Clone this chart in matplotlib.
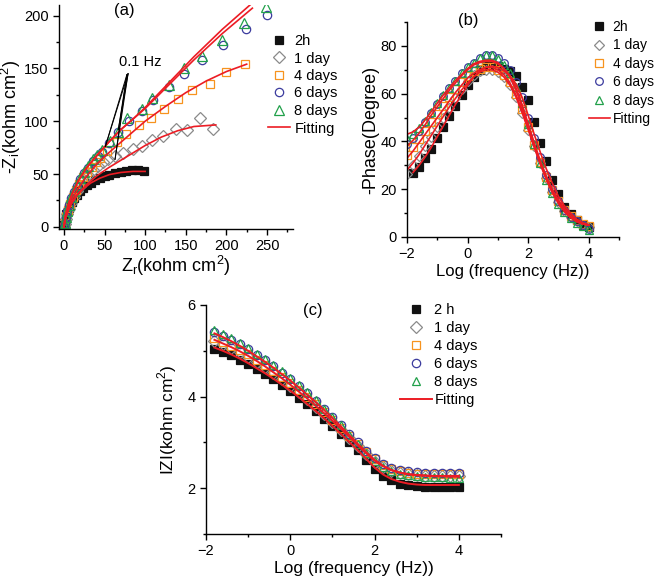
import matplotlib
matplotlib.use('Agg')
import matplotlib.pyplot as plt
from matplotlib.ticker import MultipleLocator

plt.rcParams['font.family'] = ['Liberation Sans', 'DejaVu Sans']
plt.rcParams['mathtext.fontset'] = 'custom'
plt.rcParams['mathtext.rm'] = 'Liberation Sans'

labels = ['2h', '1 day', '4 days', '6 days', '8 days']
labels_c = ['2 h', '1 day', '4 days', '6 days', '8 days']

# ---- (a) Nyquist data: Zr, -Zi (kohm cm2)
zr_2h = [0, 0.5, 1, 2, 3, 4.5, 6, 8, 10, 13, 16, 20, 24, 28, 33, 38, 44, 50, 56, 63, 70, 77, 84, 91, 98]
zi_2h = [0, 2, 5, 9, 12, 15, 18, 21, 24, 27.5, 30.5, 34, 37, 39.5, 42, 44, 46.5, 48, 49.5, 51, 52, 53, 53.5, 53.5, 52.5]
zr_1d = [0, 1, 2, 4, 6, 9, 12, 16, 20, 25, 30, 36, 42, 48, 54, 63, 73, 85, 96, 108, 122, 138, 152, 167, 183]
zi_1d = [0, 3, 7, 12, 17, 23, 28, 34, 39, 44, 49, 54, 58, 61, 64, 67, 70, 74, 77, 82, 86, 93, 92, 103, 93]
zr_4d = [0, 1, 3, 5, 8, 11, 15, 19, 24, 29, 34, 39, 45, 53, 65, 77, 93, 107, 123, 140, 158, 180, 200, 223]
zi_4d = [0, 4, 10, 16, 22, 28, 35, 41, 47, 52, 57, 61, 65, 72, 80, 88, 96, 103, 112, 121, 130, 135, 147, 154]
zr_6d = [0, 1, 2, 4, 6, 9, 12, 16, 20, 25, 30, 36, 42, 47, 56, 67, 80, 96, 110, 129, 148, 170, 196, 224, 250]
zi_6d = [0, 4, 9, 15, 21, 27, 33, 39, 45, 51, 56, 62, 67, 71, 79, 90, 100, 110, 120, 132, 145, 158, 172, 187, 201]
zr_8d = [0, 1, 2, 4, 6, 9, 12, 16, 20, 25, 30, 36, 41, 47, 57, 67, 78, 96, 108, 129, 148, 170, 194, 222, 249]
zi_8d = [0, 4, 9, 15, 21, 28, 34, 40, 46, 52, 58, 64, 68, 73, 81, 90, 103, 112, 122, 134, 150, 162, 177, 193, 208]

fit_zr_2h = [0, 2, 5, 10, 16, 24, 33, 44, 56, 70, 85, 100]
fit_zi_2h = [0, 8, 15, 23, 30, 36, 41.5, 46, 49.5, 51.5, 52.5, 52.5]
fit_zr_1d = [0, 2, 5, 10, 18, 28, 40, 55, 70, 85, 100, 120, 140, 160, 187]
fit_zi_1d = [0, 8, 15, 23, 32, 40, 48, 56, 63, 70, 77, 85, 91, 95, 96.5]
fit_zr_4d = [0, 2, 5, 10, 18, 28, 40, 55, 70, 85, 100, 125, 150, 175, 200, 225]
fit_zi_4d = [0, 9, 17, 26, 37, 48, 59, 70, 80, 90, 100, 114, 127, 138, 147, 154]
fit_zr_6d = [0, 2, 5, 10, 18, 28, 40, 55, 70, 85, 100, 130, 160, 195, 232]
fit_zi_6d = [0, 11, 20, 31, 44, 56, 67, 80, 92, 102, 112, 135, 158, 183, 207]
fit_zr_8d = [0, 2, 5, 10, 18, 28, 40, 55, 70, 85, 100, 130, 160, 195, 232]
fit_zi_8d = [0, 11, 20, 31, 44, 56, 67, 80, 92, 102, 113, 137, 161, 187, 212]

# ---- (b) Bode phase: log f, -phase (degree)
logf = [-2.0, -1.8, -1.6, -1.4, -1.2, -1.0, -0.8, -0.6, -0.4, -0.2, 0.0, 0.2, 0.4, 0.6, 0.8, 1.0,
        1.2, 1.4, 1.6, 1.8, 2.0, 2.2, 2.4, 2.6, 2.8, 3.0, 3.2, 3.4, 3.6, 3.8, 4.0]
logf_2h = logf[1:]
ph_2h = [27, 29.5, 33, 37, 41.5, 46, 50.5, 55, 59.5, 63.5, 67, 70, 71.5, 72, 71.5, 70.5,
         69.5, 67.5, 63, 57.5, 48, 39.5, 32, 24, 18, 12.5, 9.5, 7, 5, 4]
ph_1d = [26.5, 30, 34, 38, 42, 46, 50, 54, 58, 62, 65.5, 68, 69.5, 70, 70, 69, 67, 63.5, 58.5, 52,
         45, 38, 31, 24.5, 19, 14.5, 11, 8.5, 6.5, 5, 4]
ph_4d = [34.5, 37.5, 41, 44.5, 48, 51.5, 55, 58.5, 62, 65, 67.5, 69.5, 70.5, 71, 71, 70, 68, 65,
         60, 53.5, 46, 38.5, 31.5, 25, 19.5, 15, 11.5, 9, 7, 5.5, 4.5]
ph_6d = [39, 41.5, 44.5, 48, 52, 55.5, 59, 62.5, 65.5, 68.5, 71, 73, 75, 76, 76, 75, 73, 70, 65,
         58.5, 50, 41.5, 33.5, 26, 20, 15, 11.5, 8.5, 6.5, 5, 3.5]
ph_8d = [41, 43, 45.5, 48.5, 52.5, 56, 59.5, 62.5, 65.5, 68.5, 71, 73, 75, 76, 76, 74.5, 72, 68.5,
         63, 56, 47.5, 39, 31, 24, 18.5, 14, 10.5, 8, 6, 4.5, 3]

fit_ph_2h = [27, 30, 33.5, 37.5, 42, 46.5, 51, 55.5, 59.5, 63.5, 67, 69.5, 71, 71.5, 71, 69.5,
             67.5, 64, 58.5, 51, 43, 35.5, 28.5, 22.5, 17, 13, 10, 7.5, 6, 5]
fit_ph_1d = [28, 31, 34.5, 38.5, 42.5, 46.5, 50.5, 54.5, 58, 61.5, 64.5, 67, 69, 70, 70, 69, 67,
             63.5, 58.5, 52, 45, 37.5, 30.5, 24, 18.5, 14, 10.5, 8, 6.5, 5.5, 5]
fit_ph_4d = [33, 36, 39.5, 43, 46.5, 50, 53.5, 57, 60.5, 63.5, 66.5, 68.5, 70, 71, 71, 70, 68,
             64.5, 59.5, 53, 45.5, 38, 31, 24.5, 19, 14.5, 11, 8.5, 6.5, 5.5, 5]
fit_ph_6d = [38, 40.5, 43.5, 47, 51, 54.5, 58, 61.5, 64.5, 67.5, 70, 72, 73, 73.5, 73.5, 72.5,
             70.5, 67.5, 62.5, 55.5, 47.5, 39.5, 32, 25.5, 20, 15.5, 12, 9, 7, 5.5, 5]
fit_ph_8d = [43, 44, 46, 49, 52.5, 56, 59.5, 62.5, 65.5, 68, 70.5, 72.5, 73.5, 74, 74, 73, 70.5,
             67, 61.5, 54.5, 46.5, 38.5, 31, 24.5, 19, 14.5, 11, 8.5, 6.5, 5.5, 5]

# ---- (c) Bode modulus: log f, log|Z|
logf_c = logf[1:]
mod_2h = [5.05, 4.98, 4.9, 4.81, 4.71, 4.61, 4.5, 4.38, 4.26, 4.12, 3.98, 3.83, 3.68, 3.52, 3.35,
          3.18, 3.01, 2.83, 2.62, 2.42, 2.27, 2.17, 2.1, 2.06, 2.04, 2.03, 2.02, 2.02, 2.02, 2.02]
mod_1d = [5.22, 5.14, 5.06, 4.97, 4.87, 4.76, 4.64, 4.51, 4.38, 4.24, 4.09, 3.94, 3.78, 3.62, 3.45,
          3.28, 3.1, 2.92, 2.74, 2.58, 2.46, 2.38, 2.33, 2.3, 2.28, 2.27, 2.27, 2.26, 2.26, 2.26]
mod_4d = [5.27, 5.19, 5.11, 5.02, 4.92, 4.81, 4.69, 4.56, 4.43, 4.29, 4.14, 3.99, 3.83, 3.67, 3.5,
          3.32, 3.14, 2.96, 2.78, 2.63, 2.5, 2.42, 2.37, 2.34, 2.32, 2.31, 2.3, 2.3, 2.3, 2.3]
mod_6d = [5.42, 5.33, 5.24, 5.14, 5.03, 4.91, 4.79, 4.66, 4.52, 4.38, 4.23, 4.07, 3.91, 3.74, 3.56,
          3.38, 3.19, 3.0, 2.81, 2.65, 2.53, 2.45, 2.4, 2.37, 2.35, 2.34, 2.34, 2.33, 2.33, 2.33]
mod_8d = [5.45, 5.36, 5.27, 5.17, 5.06, 4.94, 4.82, 4.69, 4.55, 4.4, 4.25, 4.09, 3.92, 3.74, 3.56,
          3.37, 3.17, 2.97, 2.77, 2.6, 2.47, 2.38, 2.32, 2.28, 2.26, 2.25, 2.24, 2.24, 2.23, 2.23]

fit_mod_low = [5.07, 5.0, 4.92, 4.83, 4.73, 4.62, 4.51, 4.39, 4.26, 4.13, 3.99, 3.84, 3.69, 3.53,
               3.36, 3.19, 3.01, 2.83, 2.64, 2.45, 2.3, 2.2, 2.14, 2.1, 2.08, 2.07, 2.07, 2.07, 2.07, 2.07]
fit_mod_mid = [5.24, 5.16, 5.08, 4.99, 4.89, 4.78, 4.66, 4.53, 4.4, 4.26, 4.11, 3.96, 3.8, 3.64,
               3.47, 3.3, 3.12, 2.94, 2.76, 2.6, 2.48, 2.39, 2.34, 2.31, 2.29, 2.28, 2.27, 2.27, 2.27, 2.27]
fit_mod_top = [5.38, 5.3, 5.21, 5.11, 5.0, 4.88, 4.76, 4.63, 4.49, 4.35, 4.2, 4.04, 3.88, 3.71,
               3.53, 3.35, 3.16, 2.97, 2.79, 2.62, 2.49, 2.4, 2.34, 2.3, 2.28, 2.27, 2.26, 2.26, 2.25, 2.25]

# marker styles
BLACK = '#111111'
GRAY = '#8a8a8a'
ORANGE = '#f7931e'
BLUE = '#3b3b9e'
GREEN = '#21a04a'
RED = '#ec1c24'
styles = [
    dict(marker='s', mfc=BLACK, mec=BLACK),
    dict(marker='D', mfc='none', mec=GRAY),
    dict(marker='s', mfc='none', mec=ORANGE),
    dict(marker='o', mfc='none', mec=BLUE),
    dict(marker='^', mfc='none', mec=GREEN),
]

W, H = 657, 579
fig = plt.figure(figsize=(W / 100, H / 100), dpi=100)


def px_axes(l, t, r, b):
    return fig.add_axes([l / W, 1 - b / H, (r - l) / W, (b - t) / H])


def style_axes(ax):
    for s in ['top', 'right']:
        ax.spines[s].set_visible(False)
    for s in ['left', 'bottom']:
        ax.spines[s].set_linewidth(1.0)
    ax.tick_params(which='both', direction='out', labelsize=10.5, width=1.0)
    ax.tick_params(which='major', length=4)
    ax.tick_params(which='minor', length=2.5)


def add_legend(ax, handles, names, x, y, hlen, hpad, fs, sp):
    ax.legend(handles, names, loc='upper left', bbox_to_anchor=(x / W, 1 - y / H),
              bbox_transform=fig.transFigure, frameon=False, fontsize=fs,
              handlelength=hlen, handletextpad=hpad, labelspacing=sp, borderpad=0,
              borderaxespad=0)


# ---------------- (a)
ax = px_axes(59, 5, 293, 229)
series_a = [(zr_2h, zi_2h), (zr_1d, zi_1d), (zr_4d, zi_4d), (zr_6d, zi_6d), (zr_8d, zi_8d)]
handles = []
for (x, y), st, ms in zip(series_a, styles, [6, 6, 5.5, 6, 6.5]):
    h, = ax.plot(x, y, ls='none', ms=ms, mew=0.9, **st)
    handles.append(h)
for x, y in [(fit_zr_2h, fit_zi_2h), (fit_zr_1d, fit_zi_1d), (fit_zr_4d, fit_zi_4d),
             (fit_zr_6d, fit_zi_6d), (fit_zr_8d, fit_zi_8d)]:
    fh, = ax.plot(x, y, color=RED, lw=1.2)
handles.append(fh)
# 0.1 Hz marker lines
apex = (79, 145)
for tx, ty in [(51, 76), (63, 64), (67, 92)]:
    ax.plot([apex[0], tx], [apex[1], ty], color='black', lw=0.7)
    ax.plot([apex[0] - 1.5, tx], [apex[1] - 1, ty], color='black', lw=0.7)
ax.text(94, 156, '0.1 Hz', ha='center', va='center', fontsize=10.5)
ax.set_xlim(-6, 282)
ax.set_ylim(-2, 210)
ax.xaxis.set_major_locator(MultipleLocator(50))
ax.xaxis.set_minor_locator(MultipleLocator(25))
ax.yaxis.set_major_locator(MultipleLocator(50))
ax.yaxis.set_minor_locator(MultipleLocator(25))
style_axes(ax)
ax.set_xlabel(r'Z$_{\mathregular{r}}$(kohm cm$^{\mathregular{2}}$)', fontsize=13, labelpad=0)
ax.set_ylabel(r'-Z$_{\mathregular{i}}$(kohm cm$^{\mathregular{2}}$)', fontsize=13, labelpad=1)
fig.text(124 / W, 1 - 11 / H, '(a)', ha='center', va='center', fontsize=12)
add_legend(ax, handles, labels + ['Fitting'], 268, 34, 1.5, 0.3, 10.5, 0.24)

# ---------------- (b)
ax = px_axes(407, 22, 619, 237)
series_b = [(logf_2h, ph_2h), (logf, ph_1d), (logf, ph_4d), (logf, ph_6d), (logf, ph_8d)]
handles = []
for (x, y), st in zip(series_b, styles):
    h, = ax.plot(x, y, ls='none', ms=5.5, mew=0.9, **st)
    handles.append(h)
for x, y in [(logf_2h, fit_ph_2h), (logf, fit_ph_1d), (logf, fit_ph_4d), (logf, fit_ph_6d),
             (logf, fit_ph_8d)]:
    fh, = ax.plot(x, y, color=RED, lw=1.2)
handles.append(fh)
ax.set_xlim(-2, 5)
ax.set_ylim(0, 90)
ax.xaxis.set_major_locator(MultipleLocator(2))
ax.xaxis.set_minor_locator(MultipleLocator(1))
ax.yaxis.set_major_locator(MultipleLocator(20))
ax.yaxis.set_minor_locator(MultipleLocator(10))
style_axes(ax)
ax.set_xlabel('Log (frequency (Hz))', fontsize=12, labelpad=2)
ax.set_ylabel('-Phase(Degree)', fontsize=13, labelpad=1)
fig.text(468 / W, 1 - 20 / H, '(b)', ha='center', va='center', fontsize=12)
add_legend(ax, handles, labels + ['Fitting'], 589, 20, 1.5, 0.2, 10, 0.32)

# ---------------- (c)
ax = px_axes(206, 305, 501, 534)
series_c = [mod_2h, mod_1d, mod_4d, mod_6d, mod_8d]
handles = []
for y, st in zip(series_c, styles):
    h, = ax.plot(logf_c, y, ls='none', ms=6, mew=0.9, **st)
    handles.append(h)
for y in [fit_mod_low, fit_mod_mid, fit_mod_top]:
    fh, = ax.plot(logf_c, y, color=RED, lw=1.4)
handles.append(fh)
ax.set_xlim(-2, 5)
ax.set_ylim(1, 6)
ax.xaxis.set_major_locator(MultipleLocator(2))
ax.xaxis.set_minor_locator(MultipleLocator(1))
ax.yaxis.set_major_locator(MultipleLocator(2))
ax.yaxis.set_minor_locator(MultipleLocator(1))
style_axes(ax)
ax.set_xlabel('Log (frequency (Hz))', fontsize=12.5, labelpad=2)
ax.set_ylabel(r'IZI(kohm cm$^{\mathregular{2}}$)', fontsize=12.5, labelpad=6)
fig.text(313 / W, 1 - 310 / H, '(c)', ha='center', va='center', fontsize=12)
add_legend(ax, handles, labels_c + ['Fitting'], 400, 303, 2.2, 0.15, 10.5, 0.27)

fig.savefig('out.png', dpi=100)
